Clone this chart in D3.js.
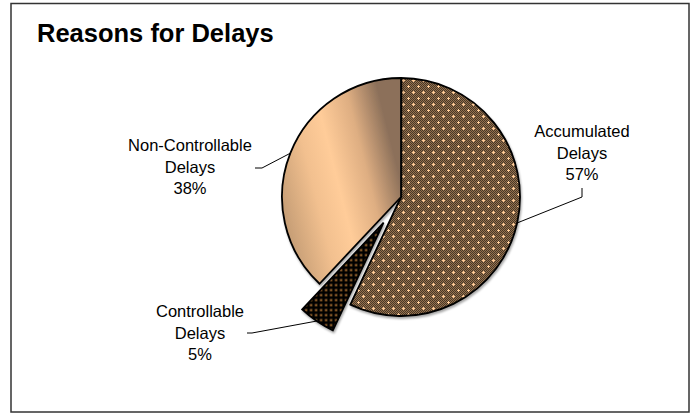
<!DOCTYPE html>
<html>
<head>
<meta charset="utf-8">
<script src="https://cdn.jsdelivr.net/npm/d3@7"></script>
<style>
  html, body { margin: 0; padding: 0; background: #fff; }
  svg { display: block; }
  text { font-family: "Liberation Sans", Arial, sans-serif; fill: #000; }
</style>
</head>
<body>
<script>
// ---- data ----
const categories = ["Accumulated Delays", "Controllable Delays", "Non-Controllable Delays"];
const labelLines = [["Accumulated", "Delays"], ["Controllable", "Delays"], ["Non-Controllable", "Delays"]];
const values = [57, 5, 38];
const title = "Reasons for Delays";

// ---- layout ----
const W = 691, H = 414;
const cx = 401, cy = 197, R = 119;
const explode = [0, 31, 0];
const labelPos = [
  { x: 582, y: 137, anchor: [582, 188], elbow: [582, 197] },
  { x: 200, y: 317, anchor: [247, 333], elbow: [252, 333] },
  { x: 190, y: 151, anchor: [255, 168], elbow: [262, 168] }
];
const fills = ["url(#patAccum)", "url(#patCtrl)", "url(#gradNon)"];

const svg = d3.select("body").append("svg").attr("width", W).attr("height", H);
const defs = svg.append("defs");

// Accumulated pattern
const p1 = defs.append("pattern").attr("id", "patAccum").attr("patternUnits", "userSpaceOnUse")
  .attr("width", 10).attr("height", 12);
p1.append("rect").attr("width", 10).attr("height", 12).attr("fill", "#94714f");
for (let x = 0; x < 10; x += 2) for (let y = 0; y < 12; y += 1) {
  p1.append("rect").attr("x", x + (y % 2)).attr("y", y).attr("width", 1).attr("height", 1).attr("fill", "#4a3826");
}
[[2, 3], [7, 9]].forEach(([x, y]) => {
  p1.append("rect").attr("x", x - 1).attr("y", y).attr("width", 3).attr("height", 1).attr("fill", "#ffcc99");
  p1.append("rect").attr("x", x).attr("y", y - 1).attr("width", 1).attr("height", 3).attr("fill", "#ffcc99");
});

// Controllable pattern
const p2 = defs.append("pattern").attr("id", "patCtrl").attr("patternUnits", "userSpaceOnUse")
  .attr("width", 5).attr("height", 5);
p2.append("rect").attr("width", 5).attr("height", 5).attr("fill", "#000");
p2.append("rect").attr("x", 1.5).attr("y", 1.5).attr("width", 2).attr("height", 2).attr("fill", "#c8843c");

// Non-controllable gradient (coordinates relative to pie centre)
const g = defs.append("linearGradient").attr("id", "gradNon")
  .attr("gradientUnits", "userSpaceOnUse")
  .attr("x1", -R).attr("y1", 15).attr("x2", 0).attr("y2", -15);
g.append("stop").attr("offset", 0).attr("stop-color", "#c59d75");
g.append("stop").attr("offset", 0.3).attr("stop-color", "#f2c08f");
g.append("stop").attr("offset", 0.5).attr("stop-color", "#ffcc99");
g.append("stop").attr("offset", 0.75).attr("stop-color", "#deae82");
g.append("stop").attr("offset", 1).attr("stop-color", "#8c705a");

// shadow
const f = defs.append("filter").attr("id", "shadow").attr("x", "-20%").attr("y", "-20%").attr("width", "140%").attr("height", "140%");
f.append("feDropShadow").attr("dx", 1).attr("dy", 2).attr("stdDeviation", 1.2).attr("flood-color", "#000").attr("flood-opacity", 0.35);

// border
svg.append("rect").attr("x", 11).attr("y", 3.5).attr("width", 678).attr("height", 408.5)
  .attr("fill", "#fff").attr("stroke", "#333").attr("stroke-width", 1.5);

// title
svg.append("text").attr("x", 37).attr("y", 42).attr("font-size", 25.5).attr("font-weight", "bold").text(title);

// pie
const pie = d3.pie().sort(null).startAngle(0).endAngle(2 * Math.PI)(values);
const arc = d3.arc().innerRadius(0).outerRadius(R);

const gPie = svg.append("g").attr("transform", `translate(${cx},${cy})`);
gPie.selectAll("path").data(pie).join("path")
  .attr("transform", (d, i) => {
    const m = (d.startAngle + d.endAngle) / 2;
    return `translate(${Math.sin(m) * explode[i]},${-Math.cos(m) * explode[i]})`;
  })
  .attr("d", arc)
  .attr("fill", (d, i) => fills[i])
  .attr("stroke", "#000").attr("stroke-width", 1.8).attr("stroke-linejoin", "miter")
  .attr("filter", "url(#shadow)");

// leader lines
pie.forEach((d, i) => {
  const m = (d.startAngle + d.endAngle) / 2;
  const r = R + explode[i];
  const ex = cx + Math.sin(m) * r, ey = cy - Math.cos(m) * r;
  const lp = labelPos[i];
  svg.append("polyline")
    .attr("points", [lp.anchor, lp.elbow, [ex, ey]].map(p => p.join(",")).join(" "))
    .attr("fill", "none").attr("stroke", "#000").attr("stroke-width", 1);
});

// labels
pie.forEach((d, i) => {
  const lp = labelPos[i];
  const t = svg.append("text").attr("text-anchor", "middle").attr("font-size", 16.5);
  const lines = labelLines[i].concat([Math.round(d.data) + "%"]);
  lines.forEach((s, k) => {
    t.append("tspan").attr("x", lp.x).attr("y", lp.y + k * 21.5).text(s);
  });
});
</script>
</body>
</html>
